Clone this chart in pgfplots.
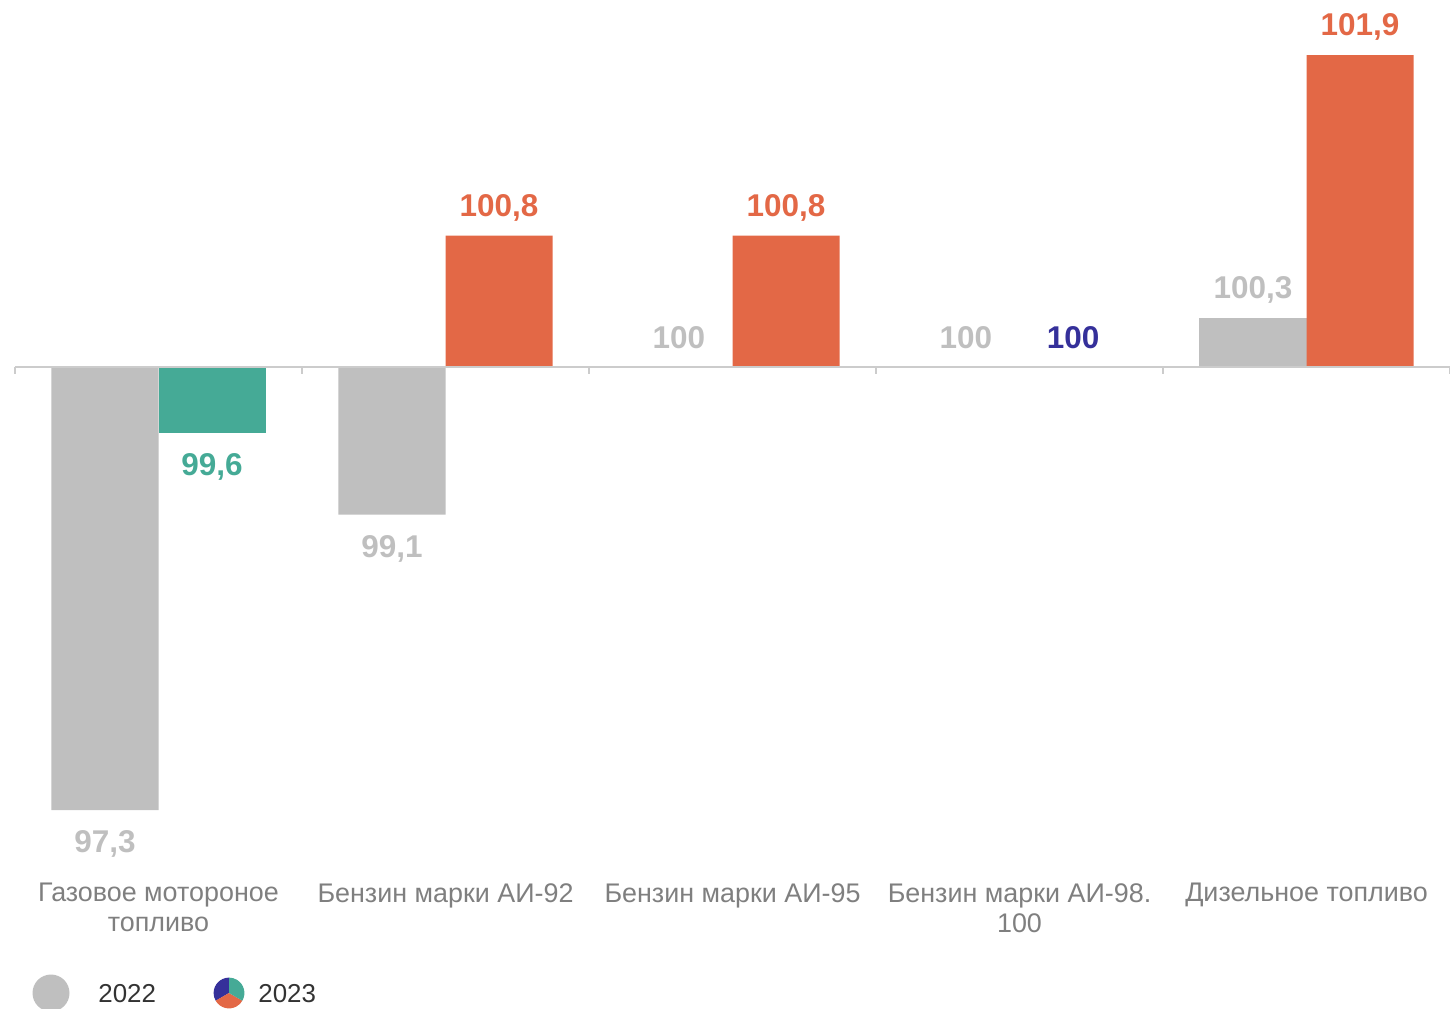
\documentclass[border=0pt]{standalone}
\usepackage{fontspec}
\setmainfont{Liberation Sans}
\usepackage{pgfplots}
\usepackage{pgfplotstable}
\pgfplotsset{compat=1.18}

\definecolor{cgray}{HTML}{BFBFBF}
\definecolor{corange}{HTML}{E36846}
\definecolor{cgreen}{HTML}{45AA96}
\definecolor{cblue}{HTML}{35309A}
\definecolor{caxis}{HTML}{CCCCCC}
\definecolor{ctext}{HTML}{7F7F7F}
\definecolor{clegend}{HTML}{333333}

% values, previous year = 100
% 2022, below 100
\pgfplotstableread{
x v
0 97.3
1 99.1
}\tabGrayNeg
% 2022, exactly 100
\pgfplotstableread{
x v
2 100
3 100
}\tabGrayZero
% 2022, above 100
\pgfplotstableread{
x v
4 100.3
}\tabGrayPos
% 2023
\pgfplotstableread{
x v
0 99.6
}\tabGreen
\pgfplotstableread{
x v
1 100.8
2 100.8
4 101.9
}\tabOrange
\pgfplotstableread{
x v
3 100
}\tabBlue

\begin{document}
\begin{tikzpicture}
\begin{axis}[
  name=ax,
  width=717.5bp, height=435bp, scale only axis,
  xmin=-0.5, xmax=4.5,
  ymin=-3.0652, ymax=2.2364,
  clip=false,
  axis line style={draw=none},
  ytick=\empty,
  xtick={0,1,2,3,4},
  xticklabels={{Газовое мотороное\\топливо},{Бензин марки АИ-92},{Бензин марки АИ-95},{Бензин марки АИ-98.\\100},{Дизельное топливо}},
  major tick length=0pt,
  xticklabel style={align=center, text=ctext, font=\fontsize{13.5}{15}\selectfont, inner sep=2bp, yshift=-4.5bp},
  ybar, bar width=0.373,
  nodes near coords,
  point meta=explicit,
  nodes near coords style={font=\bfseries\fontsize{15.8}{18}\selectfont, inner sep=7bp},
  /pgf/number format/.cd, fixed, precision=1, use comma, assume math mode=true,
]
\addplot[fill=cgray, draw=none, bar shift=-0.1865, nodes near coords style={text=cgray, anchor=north, yshift=-3bp}]
  table[x=x, y expr=\thisrow{v}-100, meta=v] {\tabGrayNeg};
\addplot[fill=cgray, draw=none, bar shift=-0.1865, nodes near coords style={text=cgray, anchor=south, yshift=2bp}]
  table[x=x, y expr=\thisrow{v}-100, meta=v] {\tabGrayZero};
\addplot[fill=cgray, draw=none, bar shift=-0.1865, nodes near coords style={text=cgray, anchor=south}]
  table[x=x, y expr=\thisrow{v}-100, meta=v] {\tabGrayPos};
\addplot[fill=cgreen, draw=none, bar shift=0.1865, nodes near coords style={text=cgreen, anchor=north, yshift=-3bp}]
  table[x=x, y expr=\thisrow{v}-100, meta=v] {\tabGreen};
\addplot[fill=corange, draw=none, bar shift=0.1865, nodes near coords style={text=corange, anchor=south}]
  table[x=x, y expr=\thisrow{v}-100, meta=v] {\tabOrange};
\addplot[fill=cblue, draw=none, bar shift=0.1865, nodes near coords style={text=cblue, anchor=south, yshift=2bp}]
  table[x=x, y expr=\thisrow{v}-100, meta=v] {\tabBlue};
\draw[caxis, line width=1.1bp] (axis cs:-0.5,0) -- (axis cs:4.5,0);
\pgfplotsinvokeforeach{-0.5,0.5,1.5,2.5,3.5,4.5}{
  \draw[caxis, line width=1.1bp] (axis cs:#1,0) -- (axis cs:#1,-0.045);
}
\end{axis}
% legend
\fill[cgray] ([shift={(18bp,-61.5bp)}]ax.south west) circle (9.25bp);
\node[anchor=base west, inner sep=0, text=clegend, font=\fontsize{13}{15}\selectfont]
  at ([shift={(41.5bp,-66bp)}]ax.south west) {2022};
\begin{scope}[shift={([shift={(107bp,-61.5bp)}]ax.south west)}]
  \fill[cblue] (0,0) -- (90:7.7bp) arc[start angle=90, end angle=210, radius=7.7bp] -- cycle;
  \fill[corange] (0,0) -- (210:7.7bp) arc[start angle=210, end angle=330, radius=7.7bp] -- cycle;
  \fill[cgreen] (0,0) -- (330:7.7bp) arc[start angle=330, end angle=450, radius=7.7bp] -- cycle;
\end{scope}
\node[anchor=base west, inner sep=0, text=clegend, font=\fontsize{13}{15}\selectfont]
  at ([shift={(121.5bp,-66bp)}]ax.south west) {2023};
\pgfresetboundingbox
\path ([xshift=-7.5bp]ax.north west) rectangle ([yshift=-69bp]ax.south east);
\end{tikzpicture}
\end{document}
